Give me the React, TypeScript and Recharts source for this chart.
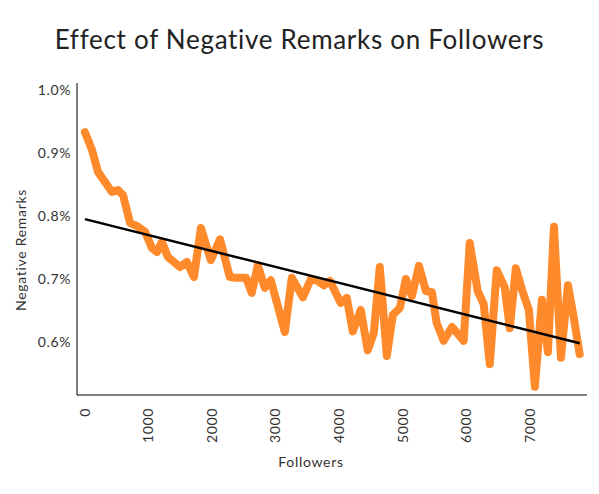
import { Line, LineChart, XAxis, YAxis } from "recharts"

// followers (x) and negative remark share in % (y)
const followers = [
  0, 110, 205, 425, 520, 600, 710, 835, 945, 1055, 1135, 1210, 1305, 1495, 1605,
  1715, 1825, 1980, 2125, 2280, 2375, 2535, 2625, 2720, 2830, 2925, 3145, 3255,
  3430, 3555, 3665, 3760, 3855, 4025, 4120, 4215, 4340, 4450, 4545, 4640, 4750,
  4845, 4955, 5050, 5145, 5255, 5365, 5460, 5535, 5645, 5775, 5960, 6055, 6180,
  6275, 6370, 6480, 6605, 6685, 6780, 6890, 6985, 7080, 7190, 7285, 7380, 7490,
  7600, 7690, 7785,
]
const remarks = [
  0.933, 0.905, 0.87, 0.838, 0.841, 0.833, 0.789, 0.783, 0.775, 0.749, 0.743,
  0.759, 0.735, 0.719, 0.727, 0.703, 0.781, 0.73, 0.763, 0.703, 0.702, 0.702,
  0.678, 0.722, 0.686, 0.698, 0.616, 0.702, 0.671, 0.7, 0.697, 0.69, 0.697,
  0.662, 0.67, 0.617, 0.651, 0.587, 0.614, 0.719, 0.578, 0.643, 0.654, 0.7,
  0.673, 0.721, 0.681, 0.679, 0.63, 0.602, 0.624, 0.602, 0.757, 0.681, 0.66,
  0.565, 0.714, 0.687, 0.622, 0.717, 0.679, 0.651, 0.529, 0.667, 0.584, 0.783,
  0.575, 0.69, 0.64, 0.581,
]

// linear trend end points
const trendX = [0, 7785]
const trendY = [0.795, 0.598]

const xTicks = [0, 1000, 2000, 3000, 4000, 5000, 6000, 7000]
const yTicks = [0.6, 0.7, 0.8, 0.9, 1.0]

const FONT = "Lato, 'Open Sans', sans-serif"

const series = followers.map((x, i) => ({ x, y: remarks[i] }))
const trend = trendX.map((x, i) => ({ x, y: trendY[i] }))

function RotatedTick({ x, y, payload }: any) {
  return (
    <text
      x={x}
      y={y}
      transform={`rotate(-90, ${x}, ${y})`}
      textAnchor="end"
      dy="0.35em"
      fill="#333"
      fontSize={14}
      fontFamily={FONT}
      letterSpacing={0.6}
    >
      {payload.value}
    </text>
  )
}

function YTitle({ viewBox }: any) {
  const cx = viewBox.x + 4
  const cy = viewBox.y + viewBox.height / 2 + 11
  return (
    <text
      x={cx}
      y={cy}
      transform={`rotate(-90, ${cx}, ${cy})`}
      textAnchor="middle"
      dy="0.35em"
      fill="#333"
      fontSize={14}
      fontFamily={FONT}
      letterSpacing={0.7}
    >
      Negative Remarks
    </text>
  )
}

export default function App() {
  return (
    <div
      style={{
        position: "absolute",
        left: 0,
        top: 0,
        width: 599,
        height: 494,
        background: "#fff",
        fontFamily: FONT,
      }}
    >
      <div
        style={{
          position: "absolute",
          top: 23,
          left: 0,
          width: 599,
          textAlign: "center",
          fontSize: 26,
          letterSpacing: 0.7,
          color: "#222",
        }}
      >
        Effect of Negative Remarks on Followers
      </div>
      <LineChart
        width={599}
        height={494}
        margin={{ top: 83, right: 12, bottom: 27, left: 17 }}
      >
        <XAxis
          dataKey="x"
          type="number"
          domain={[-125, 7900]}
          ticks={xTicks}
          tick={<RotatedTick />}
          tickLine={false}
          tickSize={0}
          tickMargin={13}
          height={72}
          stroke="#000"
          allowDataOverflow
          label={{
            value: "Followers",
            position: "insideBottom",
            offset: 0,
            fill: "#333",
            fontSize: 14,
            fontFamily: FONT,
            letterSpacing: 0.7,
            dx: -21,
          }}
        />
        <YAxis
          dataKey="y"
          type="number"
          domain={[0.516, 1.011]}
          ticks={yTicks}
          tickFormatter={(v) => `${v.toFixed(1)}%`}
          tick={{ fill: "#333", fontSize: 14, fontFamily: FONT, letterSpacing: 0.6 }}
          tickLine={false}
          tickSize={0}
          tickMargin={6}
          width={60}
          stroke="#000"
          allowDataOverflow
          label={<YTitle />}
        />
        <Line
          data={series}
          dataKey="y"
          type="linear"
          stroke="#FF8A2B"
          strokeWidth={8}
          strokeLinejoin="round"
          strokeLinecap="round"
          dot={false}
          isAnimationActive={false}
        />
        <Line
          data={trend}
          dataKey="y"
          type="linear"
          stroke="#000"
          strokeWidth={2.5}
          dot={false}
          isAnimationActive={false}
        />
      </LineChart>
    </div>
  )
}
